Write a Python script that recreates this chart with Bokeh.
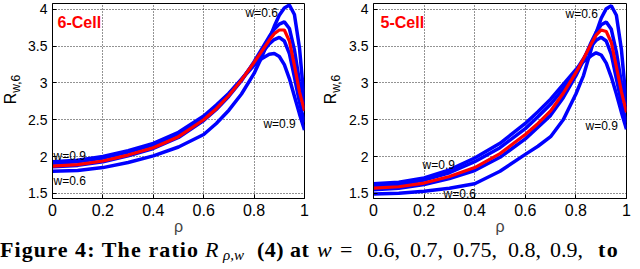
import math
from bokeh.plotting import figure
from bokeh.models import Label, FixedTicker, Div, Range1d
from bokeh.layouts import row, column
from bokeh.embed import file_html
from bokeh.resources import INLINE

# ---- data ----
rho = [0, 0.1, 0.2, 0.3, 0.4, 0.5, 0.6, 0.65, 0.7, 0.75, 0.8, 0.83, 0.86, 0.88,
       0.9, 0.92, 0.94, 0.96, 0.98, 1.0]

six_w09 = [1.93, 1.95, 2.00, 2.08, 2.18, 2.33, 2.55, 2.70, 2.86, 3.05, 3.24, 3.33, 3.39, 3.40, 3.36, 3.25, 3.06, 2.82, 2.58, 2.36]
six_w08 = [1.91, 1.93, 1.98, 2.06, 2.16, 2.31, 2.53, 2.68, 2.85, 3.05, 3.27, 3.40, 3.53, 3.59, 3.62, 3.57, 3.40, 3.08, 2.74, 2.46]
six_w075 = [1.87, 1.89, 1.94, 2.02, 2.12, 2.27, 2.50, 2.65, 2.83, 3.04, 3.28, 3.43, 3.58, 3.67, 3.72, 3.72, 3.57, 3.24, 2.88, 2.62]
six_w07 = [1.86, 1.88, 1.93, 2.01, 2.11, 2.26, 2.49, 2.64, 2.82, 3.03, 3.29, 3.46, 3.63, 3.73, 3.80, 3.83, 3.74, 3.45, 3.02, 2.64]
six_w06 = [1.80, 1.81, 1.85, 1.92, 2.01, 2.13, 2.30, 2.45, 2.63, 2.85, 3.13, 3.35, 3.60, 3.77, 3.92, 4.02, 4.06, 3.93, 3.48, 2.72]

five_w09 = [1.63, 1.65, 1.71, 1.82, 1.98, 2.18, 2.45, 2.61, 2.78, 2.98, 3.18, 3.29, 3.37, 3.41, 3.38, 3.27, 3.08, 2.85, 2.60, 2.37]
five_w08 = [1.60, 1.62, 1.68, 1.78, 1.93, 2.12, 2.38, 2.54, 2.71, 2.92, 3.17, 3.33, 3.50, 3.58, 3.62, 3.57, 3.39, 3.06, 2.73, 2.46]
five_w075 = [1.57, 1.59, 1.64, 1.73, 1.85, 2.04, 2.30, 2.45, 2.62, 2.86, 3.14, 3.33, 3.53, 3.65, 3.72, 3.70, 3.55, 3.22, 2.88, 2.60]
five_w07 = [1.55, 1.57, 1.62, 1.70, 1.81, 1.99, 2.24, 2.40, 2.56, 2.80, 3.10, 3.31, 3.55, 3.69, 3.79, 3.83, 3.73, 3.42, 3.00, 2.62]
five_w06 = [1.49, 1.50, 1.53, 1.57, 1.63, 1.80, 2.03, 2.14, 2.27, 2.50, 2.85, 3.10, 3.45, 3.68, 3.88, 4.01, 4.05, 3.92, 3.45, 2.70]

x_ticks = [0, 0.2, 0.4, 0.6, 0.8, 1.0]
x_tick_labels = ["0", "0.2", "0.4", "0.6", "0.8", "1"]
y_ticks = [1.5, 2.0, 2.5, 3.0, 3.5, 4.0]
y_tick_labels = ["1.5", "2", "2.5", "3", "3.5", "4"]

panel_titles = ["6-Cell", "5-Cell"]

SANS = "Liberation Sans"
H = 238
STRIP = 24


def make_ylabel():
    # narrow strip carrying the rotated y-axis title R_{w,6}
    q = figure(width=STRIP, height=H, output_backend="svg", toolbar_location=None,
               x_range=Range1d(0, STRIP), y_range=Range1d(H, 0),
               x_axis_type=None, y_axis_type=None,
               min_border_left=0, min_border_right=0, min_border_top=0, min_border_bottom=0)
    q.outline_line_color = None
    q.xgrid.visible = False
    q.ygrid.visible = False
    q.add_layout(Label(x=10, y=116, text="R", angle=math.pi / 2,
                       text_font=SANS, text_font_size="16px", text_color="black",
                       text_align="center", text_baseline="middle"))
    q.add_layout(Label(x=15.5, y=98, text="w,6", angle=math.pi / 2,
                       text_font=SANS, text_font_size="12px", text_color="black",
                       text_align="center", text_baseline="middle"))
    return q


def make_panel(series_blue, series_red, title, left_border, right_border, labels):
    p = figure(width=320 - STRIP, height=H, output_backend="svg", toolbar_location=None,
               x_range=Range1d(0, 1), y_range=Range1d(1.43, 4.08),
               min_border_left=left_border, min_border_right=right_border,
               min_border_top=3, min_border_bottom=H - 198)
    p.background_fill_color = "white"
    p.border_fill_color = "white"
    p.outline_line_color = "black"
    p.outline_line_width = 1

    for ys in series_blue:
        p.line(rho, ys, line_color="#0000ff", line_width=3.5)
    p.line(rho, series_red, line_color="#ff0000", line_width=3.2)

    for ax in (p.xaxis[0], p.yaxis[0]):
        ax.axis_line_color = "black"
        ax.major_tick_in = 4
        ax.major_tick_out = 0
        ax.minor_tick_line_color = None
        ax.major_label_text_font = SANS
        ax.major_label_text_color = "black"
    p.xaxis.ticker = FixedTicker(ticks=x_ticks)
    p.xaxis.major_label_overrides = dict(zip(x_ticks, x_tick_labels))
    p.xaxis.major_label_text_font_size = "16px"
    p.xaxis.major_label_standoff = 5
    p.xaxis.axis_label = "ρ"
    p.xaxis.axis_label_text_font = SANS
    p.xaxis.axis_label_text_font_style = "normal"
    p.xaxis.axis_label_text_font_size = "16px"
    p.xaxis.axis_label_standoff = -1
    p.yaxis.ticker = FixedTicker(ticks=y_ticks)
    p.yaxis.major_label_overrides = dict(zip(y_ticks, y_tick_labels))
    p.yaxis.major_label_text_font_size = "14px"
    p.yaxis.major_label_standoff = 5

    for g in (p.xgrid[0], p.ygrid[0]):
        g.grid_line_color = "black"
        g.grid_line_dash = "1 2"
        g.grid_line_width = 1
        g.grid_line_alpha = 0.85
    p.xgrid.ticker = FixedTicker(ticks=x_ticks)
    p.ygrid.ticker = FixedTicker(ticks=y_ticks)

    p.add_layout(Label(x=labels[0][0], y=labels[0][1], text=title,
                       text_font=SANS, text_font_size="16px", text_font_style="bold",
                       text_color="#ff0000", text_align="left", text_baseline="middle"))
    for (lx, ly, txt) in labels[1:]:
        p.add_layout(Label(x=lx, y=ly, text=txt, text_font=SANS,
                           text_font_size="12px", text_color="black",
                           text_align="left", text_baseline="middle"))
    return p


left_labels = [(0.02, 3.82, None), (0.766, 3.95, "w=0.6"), (0.837, 2.44, "w=0.9"),
               (0.004, 2.01, "w=0.9"), (0.004, 1.67, "w=0.6")]
right_labels = [(0.028, 3.82, None), (0.759, 3.94, "w=0.6"), (0.838, 2.41, "w=0.9"),
                (0.194, 1.88, "w=0.9"), (0.277, 1.49, "w=0.6")]

p1 = make_panel([six_w09, six_w08, six_w07, six_w06], six_w075, panel_titles[0],
                52 - STRIP, 16, left_labels)
p2 = make_panel([five_w09, five_w08, five_w07, five_w06], five_w075, panel_titles[1],
                53 - STRIP, 14, right_labels)
y1 = make_ylabel()
y2 = make_ylabel()

# caption tokens: (left px, html)
caption_tokens = [
    (0, '<b style="letter-spacing:1.1px">Figure 4: The ratio</b>'),
    (205, '<i>R</i>'),
    (257, '<b style="letter-spacing:0.5px">(4)</b>'),
    (290, '<b style="letter-spacing:0.5px">at</b>'),
    (317, '<i>w</i>'),
    (340, '='),
    (367, '0.6,'),
    (410, '0.7,'),
    (453, '0.75,'),
    (508, '0.8,'),
    (550, '0.9,'),
    (598, '<b style="letter-spacing:1.5px">to</b>'),
]
spans = "".join(
    '<span style="position:absolute;left:%dpx;top:0px;line-height:24px">%s</span>' % (x, h)
    for x, h in caption_tokens)
spans += ('<span style="position:absolute;left:223px;top:5px;line-height:24px;'
          'font-size:15px"><i>ρ,w</i></span>')
CAP_H = 269 - H
caption = Div(
    text=('<div style="position:relative;width:640px;height:%dpx">' % CAP_H)
         + spans + '</div>',
    width=640, height=CAP_H, margin=(0, 0, 0, 0),
    styles={"font-family": "Liberation Serif", "font-size": "22px",
            "white-space": "nowrap", "color": "black"})

layout = column(row(y1, p1, y2, p2, spacing=0), caption, spacing=0)

open("out.html", "w").write(file_html(layout, INLINE))
